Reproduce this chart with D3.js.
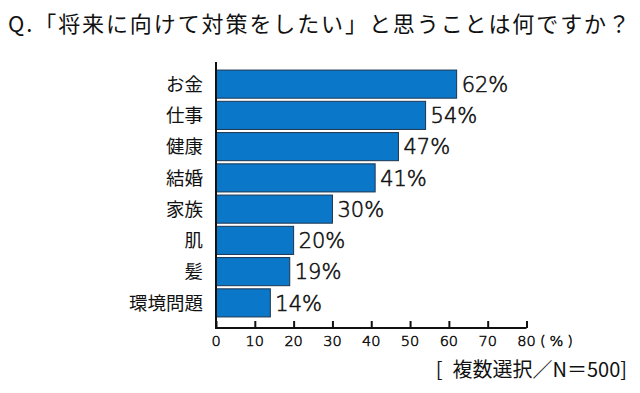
<!DOCTYPE html>
<html>
<head>
    <meta charset='utf-8'>
</head>
<style>
    body { margin: 0; background: #fff; }
    text { font-family: "Noto Sans CJK JP", sans-serif; fill: #111; }
    .num { font-family: "DejaVu Sans", sans-serif; font-weight: 200; stroke: #111; stroke-width: 0.55px; }
    .bar { fill: #0b77c8; stroke: #1b3550; stroke-width: 1px; }
    .axis path, .axis line { stroke: #111; stroke-width: 2px; }
</style>
<body>
    <div id='chart'></div>
    <script src="https://d3js.org/d3.v7.min.js"></script>
    <script>
        var categories = ['お金', '仕事', '健康', '結婚', '家族', '肌', '髪', '環境問題'];
        var values = [62, 54, 47, 41, 30, 20, 19, 14];
        var xTicks = [0, 10, 20, 30, 40, 50, 60, 70, 80];
        var title = 'Q.「将来に向けて対策をしたい」と思うことは何ですか？';
        var note = '[\u2002複数選択／N＝500]';

        var width = 640, height = 393;
        var svg = d3.select('#chart').append('svg')
            .attr('width', width)
            .attr('height', height);

        var x = d3.scaleLinear().domain([0, 80]).range([216, 526.5]);
        var y = d3.scaleBand().domain(categories)
            .range([68.5, 318.5])
            .paddingInner(0.1)
            .paddingOuter(0.05);

        svg.append('text')
            .attr('x', 8).attr('y', 32)
            .attr('font-size', 22)
            .attr('textLength', 622)
            .text(title);

        svg.selectAll('.bar').data(values)
            .enter().append('rect')
            .attr('class', 'bar')
            .attr('x', x(0))
            .attr('y', function(d, i) { return y(categories[i]); })
            .attr('width', function(d) { return x(d) - x(0); })
            .attr('height', y.bandwidth());

        svg.selectAll('.val').data(values)
            .enter().append('text')
            .attr('class', 'val num')
            .attr('x', function(d) { return x(d) + 5; })
            .attr('y', function(d, i) { return y(categories[i]) + y.bandwidth() / 2; })
            .attr('dy', '0.37em')
            .attr('font-size', 21)
            .text(function(d) { return d + '%'; });

        svg.selectAll('.cat').data(categories)
            .enter().append('text')
            .attr('class', 'cat')
            .attr('x', 203)
            .attr('y', function(d) { return y(d) + y.bandwidth() / 2; })
            .attr('dy', '0.36em')
            .attr('text-anchor', 'end')
            .attr('font-size', 18.5)
            .text(function(d) { return d; });

        // y axis line
        svg.append('line')
            .attr('x1', x(0)).attr('x2', x(0))
            .attr('y1', 62).attr('y2', 329)
            .attr('stroke', '#111').attr('stroke-width', 2);

        var xAxis = svg.append('g')
            .attr('class', 'axis')
            .attr('transform', 'translate(0,328)')
            .call(d3.axisTop(x).tickValues(xTicks).tickSize(7).tickFormat(''));
        xAxis.select('.domain').attr('d', 'M' + x(0) + ',0H' + x(80));

        svg.selectAll('.tick-label').data(xTicks)
            .enter().append('text')
            .attr('class', 'tick-label num')
            .attr('x', function(d) { return x(d); })
            .attr('y', 346)
            .attr('text-anchor', 'middle')
            .attr('font-size', 14.5)
            .text(function(d) { return d; });

        svg.append('text')
            .attr('class', 'num')
            .attr('x', 540).attr('y', 346)
            .attr('font-size', 14.5)
            .attr('textLength', 33)
            .text('(%)');

        svg.append('text')
            .attr('x', 627).attr('y', 377)
            .attr('text-anchor', 'end')
            .attr('font-size', 20)
            .text(note);
    </script>
</body>
</html>
